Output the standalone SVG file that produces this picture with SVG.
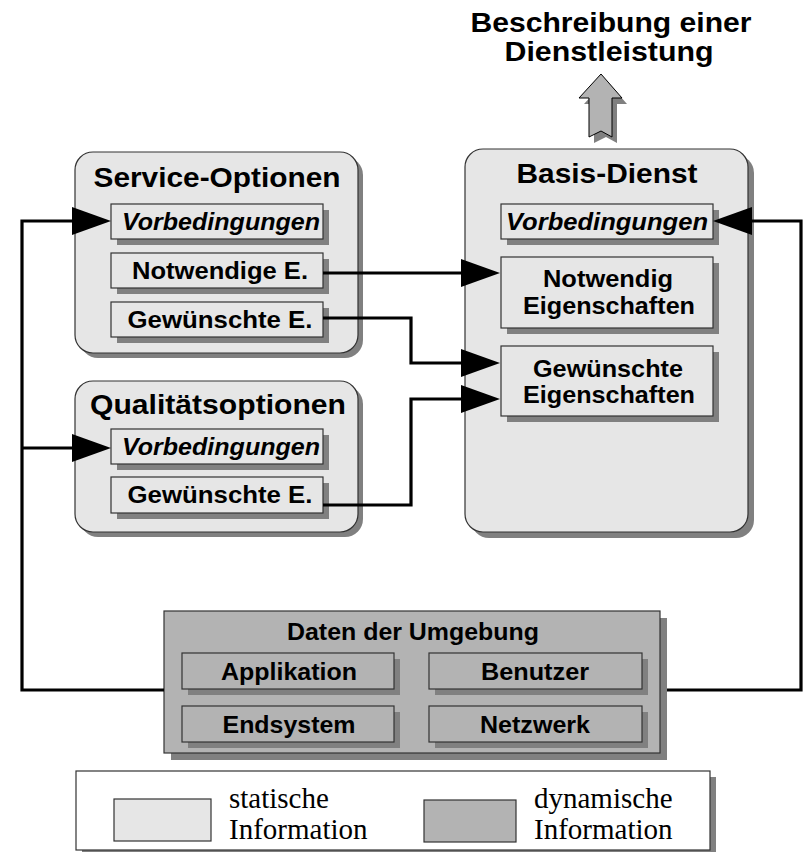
<svg xmlns="http://www.w3.org/2000/svg" width="803" height="852" viewBox="0 0 803 852">
<defs>
<style>
.lt{fill:#e6e6e6;stroke:#333;stroke-width:1.2}
.dk{fill:#b3b3b3;stroke:#333;stroke-width:1.2}
.sh{fill:#808080}
.t{font-family:"Liberation Sans",Arial,sans-serif;font-weight:bold;fill:#000;text-anchor:middle}
.h{font-size:28px}
.s{font-size:24px}
.i{font-style:italic}
.lg{font-family:"Liberation Serif","Times New Roman",serif;font-size:29px;fill:#000}
.ln{fill:none;stroke:#000;stroke-width:3.2}
</style>
<marker id="ah" markerUnits="userSpaceOnUse" markerWidth="40" markerHeight="28" refX="19" refY="14" orient="auto" viewBox="0 0 40 28">
<path d="M0,0 L39,14 L0,28 Z" fill="#000"/>
</marker>
</defs>
<rect width="803" height="852" fill="#fff"/>

<g id="title">
<path d="M606,80 L627,104 L617,104 L617,143 L606,137 L594,143 L594,104 L584,104 Z" class="sh"/>
<path d="M601,74 L622,98 L612,98 L612,137 L601,131 L589,137 L589,98 L579,98 Z" fill="#b3b3b3" stroke="#000" stroke-width="1"/>
<text class="t h" x="611" y="32" textLength="281" lengthAdjust="spacingAndGlyphs">Beschreibung einer</text>
<text class="t h" x="609" y="61" textLength="209" lengthAdjust="spacingAndGlyphs">Dienstleistung</text>
</g>

<g id="service-optionen">
<rect class="sh" x="80" y="157" width="283" height="201" rx="18"/>
<rect class="lt" x="75" y="152" width="283" height="201" rx="18"/>
<text class="t h" x="217" y="187" textLength="247" lengthAdjust="spacingAndGlyphs">Service-Optionen</text>
<g id="so-vorbedingungen">
<rect class="sh" x="117" y="210" width="212" height="35"/>
<rect class="lt" x="111" y="204" width="212" height="35"/>
<text class="t s i" x="221" y="230" textLength="198" lengthAdjust="spacingAndGlyphs">Vorbedingungen</text>
</g>
<g id="so-notwendige">
<rect class="sh" x="117" y="259" width="212" height="35"/>
<rect class="lt" x="111" y="253" width="212" height="35"/>
<text class="t s" x="220" y="279" textLength="176" lengthAdjust="spacingAndGlyphs">Notwendige E.</text>
</g>
<g id="so-gewuenschte">
<rect class="sh" x="117" y="308" width="212" height="35"/>
<rect class="lt" x="111" y="302" width="212" height="35"/>
<text class="t s" x="220" y="328" textLength="185" lengthAdjust="spacingAndGlyphs">Gewünschte E.</text>
</g>
</g>

<g id="qualitaetsoptionen">
<rect class="sh" x="80" y="386" width="283" height="151" rx="18"/>
<rect class="lt" x="75" y="381" width="283" height="151" rx="18"/>
<text class="t h" x="218" y="414" textLength="256" lengthAdjust="spacingAndGlyphs">Qualitätsoptionen</text>
<g id="qo-vorbedingungen">
<rect class="sh" x="117" y="435" width="212" height="35"/>
<rect class="lt" x="111" y="429" width="212" height="35"/>
<text class="t s i" x="221" y="455" textLength="198" lengthAdjust="spacingAndGlyphs">Vorbedingungen</text>
</g>
<g id="qo-gewuenschte">
<rect class="sh" x="117" y="483" width="212" height="36"/>
<rect class="lt" x="111" y="477" width="212" height="36"/>
<text class="t s" x="220" y="503" textLength="185" lengthAdjust="spacingAndGlyphs">Gewünschte E.</text>
</g>
</g>

<g id="basis-dienst">
<rect class="sh" x="471" y="155" width="283" height="383" rx="18"/>
<rect class="lt" x="465" y="149" width="283" height="383" rx="18"/>
<text class="t h" x="607" y="183" textLength="181" lengthAdjust="spacingAndGlyphs">Basis-Dienst</text>
<g id="bd-vorbedingungen">
<rect class="sh" x="507" y="210" width="212" height="35"/>
<rect class="lt" x="501" y="204" width="212" height="35"/>
<text class="t s i" x="607" y="230" textLength="202" lengthAdjust="spacingAndGlyphs">Vorbedingungen</text>
</g>
<g id="bd-notwendig">
<rect class="sh" x="507" y="263" width="212" height="71"/>
<rect class="lt" x="501" y="257" width="212" height="71"/>
<text class="t s" x="608" y="287" textLength="130" lengthAdjust="spacingAndGlyphs">Notwendig</text>
<text class="t s" x="609" y="314" textLength="172" lengthAdjust="spacingAndGlyphs">Eigenschaften</text>
</g>
<g id="bd-gewuenschte">
<rect class="sh" x="507" y="352" width="212" height="70"/>
<rect class="lt" x="501" y="346" width="212" height="70"/>
<text class="t s" x="608" y="377" textLength="150" lengthAdjust="spacingAndGlyphs">Gewünschte</text>
<text class="t s" x="609" y="403" textLength="172" lengthAdjust="spacingAndGlyphs">Eigenschaften</text>
</g>
</g>

<g id="daten-der-umgebung">
<rect class="sh" x="171" y="618" width="496" height="142"/>
<rect class="dk" x="164" y="611" width="496" height="142"/>
<text class="t s" x="413" y="640" textLength="252" lengthAdjust="spacingAndGlyphs">Daten der Umgebung</text>
<g id="applikation">
<rect class="sh" x="188" y="659" width="212" height="36"/>
<rect class="dk" x="182" y="653" width="212" height="36"/>
<text class="t s" x="289" y="680" textLength="136" lengthAdjust="spacingAndGlyphs">Applikation</text>
</g>
<g id="benutzer">
<rect class="sh" x="435" y="659" width="213" height="36"/>
<rect class="dk" x="429" y="653" width="213" height="36"/>
<text class="t s" x="535" y="680" textLength="108" lengthAdjust="spacingAndGlyphs">Benutzer</text>
</g>
<g id="endsystem">
<rect class="sh" x="188" y="712" width="212" height="36"/>
<rect class="dk" x="182" y="706" width="212" height="36"/>
<text class="t s" x="289" y="733" textLength="133" lengthAdjust="spacingAndGlyphs">Endsystem</text>
</g>
<g id="netzwerk">
<rect class="sh" x="435" y="712" width="213" height="36"/>
<rect class="dk" x="429" y="706" width="213" height="36"/>
<text class="t s" x="535" y="733" textLength="110" lengthAdjust="spacingAndGlyphs">Netzwerk</text>
</g>
</g>

<g id="connectors">
<path class="ln" d="M164,690 H22 V221 H91" marker-end="url(#ah)"/>
<path class="ln" d="M22,448 H91" marker-end="url(#ah)"/>
<path class="ln" d="M667,690 H801 V221 H733" marker-end="url(#ah)"/>
<path class="ln" d="M323,273 H480" stroke-width="4.5" marker-end="url(#ah)"/>
<path class="ln" d="M323,318 H411 V363 H480" marker-end="url(#ah)"/>
<path class="ln" d="M323,505 H411 V399 H480" marker-end="url(#ah)"/>
</g>

<g id="legend">
<rect class="sh" x="82" y="777" width="634" height="79"/>
<rect x="76" y="771" width="634" height="79" fill="#fff" stroke="#333" stroke-width="1.2"/>
<rect class="lt" x="114" y="799" width="97" height="42"/>
<text class="lg" x="229" y="808">statische</text>
<text class="lg" x="229" y="839">Information</text>
<rect class="dk" x="424" y="800" width="92" height="42"/>
<text class="lg" x="534" y="808">dynamische</text>
<text class="lg" x="534" y="839">Information</text>
</g>
</svg>
